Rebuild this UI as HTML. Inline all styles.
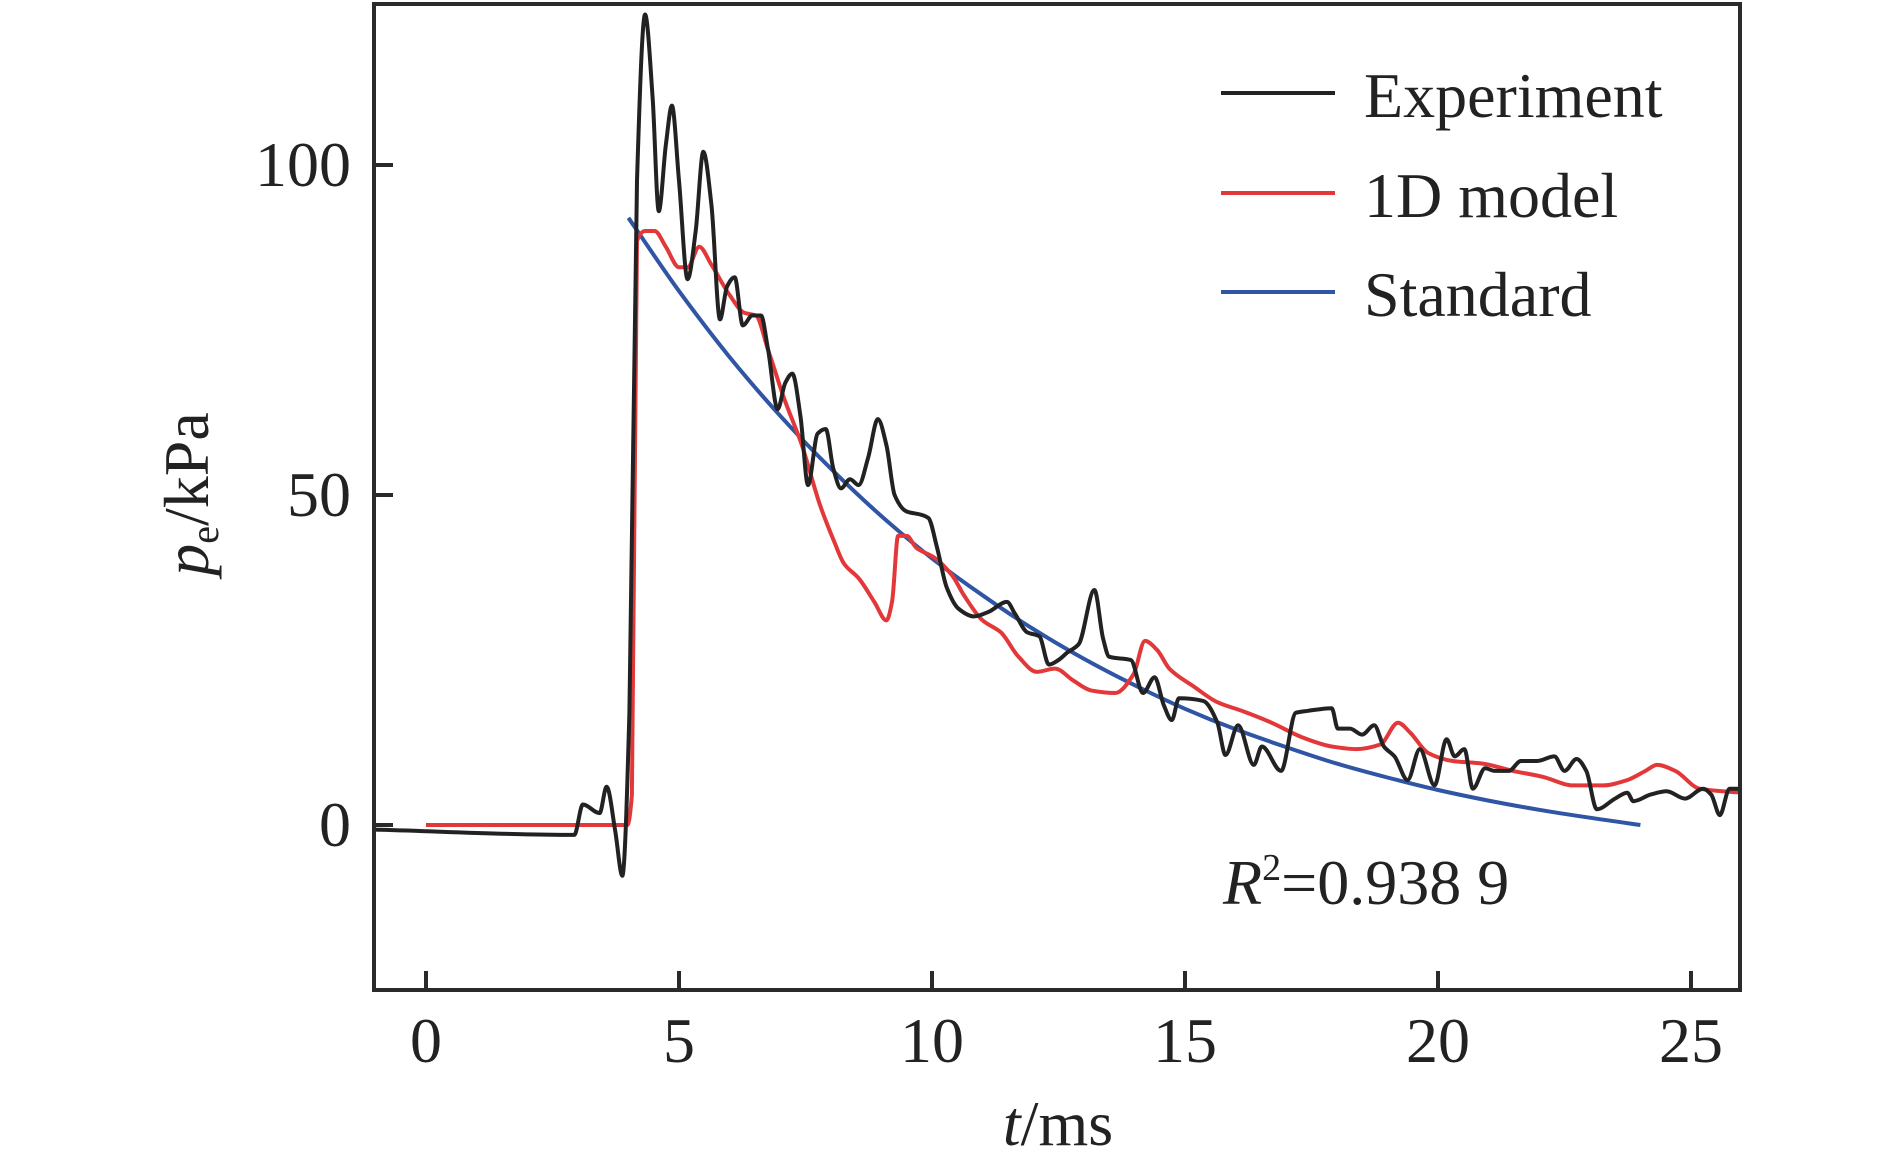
<!DOCTYPE html>
<html><head><meta charset="utf-8"><style>
html,body{margin:0;padding:0;background:#fff;}
svg{display:block;}
text{font-family:"Liberation Serif",serif;fill:#222;}
</style></head><body>
<svg id="chart" width="1890" height="1164" viewBox="0 0 1890 1164" xmlns="http://www.w3.org/2000/svg">
<g id="plot"></g>
<g id="axes"></g>
<g>
 <line x1="1221" y1="93" x2="1335" y2="93" stroke="#222" stroke-width="4"/>
 <text x="1364" y="117" font-size="64">Experiment</text>
 <line x1="1221" y1="193" x2="1335" y2="193" stroke="#e3383a" stroke-width="4"/>
 <text x="1364" y="217" font-size="64">1D model</text>
 <line x1="1221" y1="292" x2="1335" y2="292" stroke="#2f55a4" stroke-width="4"/>
 <text x="1364" y="316" font-size="64">Standard</text>
</g>
<text x="1223" y="904" font-size="64"><tspan font-style="italic">R</tspan><tspan font-size="38" dy="-24">2</tspan><tspan dy="24">=0.938 9</tspan></text>
<text x="1058" y="1145" font-size="64" text-anchor="middle"><tspan font-style="italic">t</tspan>/ms</text>
<text transform="translate(208,494) rotate(-90)" font-size="64" text-anchor="middle"><tspan font-style="italic">p</tspan><tspan font-size="40" dy="10">e</tspan><tspan dy="-10">/kPa</tspan></text>
</svg>
<script>
const expT=[-1.0,2.93,3.1,3.43,3.57,3.74,3.88,4.02,4.17,4.33,4.48,4.6,4.74,4.86,5.0,5.17,5.33,5.48,5.64,5.81,5.95,6.1,6.26,6.45,6.62,6.76,6.95,7.1,7.24,7.4,7.55,7.74,7.9,8.05,8.2,8.38,8.55,8.74,8.93,9.1,9.26,9.5,9.79,9.93,10.1,10.29,10.52,10.83,11.12,11.48,11.64,11.88,12.12,12.31,12.5,12.67,12.9,13.21,13.38,13.5,13.93,14.17,14.4,14.58,14.74,14.88,15.36,15.64,15.8,16.05,16.36,16.52,16.9,17.19,17.43,17.9,18.02,18.26,18.5,18.74,18.93,19.14,19.4,19.64,19.93,20.17,20.33,20.52,20.69,20.93,21.12,21.4,21.64,21.95,22.3,22.5,22.74,22.93,23.14,23.5,23.74,23.86,24.2,24.52,24.88,25.24,25.4,25.57,25.76,25.98];
const expP=[-0.7,-1.5,3.1,1.8,5.8,-0.9,-7.7,17,97.6,122.8,110,93,103,109,97.6,82.7,90,102,94,76.6,81.6,83,75.7,77.2,77.2,72,63,67,68.4,62,51.5,59.3,60,54,51,52.4,51.5,55.7,61.5,57.5,50,47.5,47,46.5,42,36,32.8,31.6,32.3,33.8,32,29.2,28.6,24.3,25,26.1,27.4,35.6,28.3,25.5,25,20,22.4,18.2,15.9,19.2,18.8,15.5,10.6,15.1,9.1,11.9,8.2,17,17.3,17.7,14.6,14.6,13.7,15.1,11.9,10.4,6.8,11.5,6,13,10.4,11.5,5.5,8.6,8.2,8.2,9.7,9.7,10.4,8.2,10,8.2,2.4,4,4.9,3.6,4.6,5.1,4,5.5,4.6,1.5,5.5,5.5];
const modT=[0,3.98,4.07,4.17,4.33,4.52,4.74,5.0,5.17,5.4,5.64,6.0,6.29,6.52,6.76,7.07,7.43,7.79,8.07,8.26,8.55,8.86,9.1,9.21,9.33,9.5,9.69,10.05,10.4,10.64,11.0,11.36,11.71,12.07,12.43,12.79,13.14,13.62,13.98,14.21,14.45,14.69,15.17,15.64,16.12,16.71,17.31,17.9,18.38,18.86,19.21,19.45,19.81,20.29,20.88,21.48,22.07,22.67,23.26,23.74,24.1,24.33,24.69,25.17,25.98];
const modP=[0,0,4.6,88.5,90,90,87.6,84.5,84.5,87.6,84.9,80.3,77.6,77.2,72,64.8,57.5,48.4,42.9,39.6,37.4,33.8,31,33.8,43.8,43.8,42,40.5,37.8,34.7,31,29.2,25.5,23.2,23.7,21.9,20.4,20,22.8,27.9,26.5,23.7,21,18.6,17.3,15.5,13.3,11.9,11.5,12.2,15.5,14,10.9,9.7,9.3,8.2,7.3,6,6,6.8,8.2,9.1,8.2,5.5,4.9];
const stdT=[4,5,6,7,8,9,10,11,12,13,14,15,16,17,18,19,20,21,22,23,24];
const stdP=[92,80.9,70.9,62.0,54.0,46.8,40.4,34.8,29.7,25.2,21.2,17.6,14.5,11.8,9.3,7.2,5.3,3.7,2.3,1.1,0];
const xTicks=[0,5,10,15,20,25];
const yTicks=[0,50,100];
const xTickLabels=["0","5","10","15","20","25"];
const yTickLabels=["0","50","100"];

const NS="http://www.w3.org/2000/svg";
const L=374,R=1740,T=4,B=990;
const xs=t=>426+t*50.6;
const ys=p=>825-p*6.6;
function monotone(tx,py){
  const X=tx.map(xs),Y=py.map(ys),n=X.length;
  const d=[],m=new Array(n);
  for(let i=0;i<n-1;i++)d.push((Y[i+1]-Y[i])/(X[i+1]-X[i]));
  m[0]=d[0];m[n-1]=d[n-2];
  for(let i=1;i<n-1;i++){
    if(d[i-1]*d[i]<=0)m[i]=0;
    else{const h0=X[i]-X[i-1],h1=X[i+1]-X[i];const w1=2*h1+h0,w2=h1+2*h0;m[i]=(w1+w2)/(w1/d[i-1]+w2/d[i]);}
  }
  let s="M"+X[0].toFixed(1)+","+Y[0].toFixed(1);
  for(let i=0;i<n-1;i++){
    const h=(X[i+1]-X[i])/3;
    s+="C"+(X[i]+h).toFixed(1)+","+(Y[i]+m[i]*h).toFixed(1)+" "+(X[i+1]-h).toFixed(1)+","+(Y[i+1]-m[i+1]*h).toFixed(1)+" "+X[i+1].toFixed(1)+","+Y[i+1].toFixed(1);
  }
  return s;
}
const plot=document.getElementById('plot');
function addPath(d,color,name){
  const p=document.createElementNS(NS,'path');
  p.setAttribute('d',d);p.setAttribute('fill','none');p.setAttribute('stroke',color);
  p.setAttribute('stroke-width','4');p.setAttribute('stroke-linejoin','round');
  
  
  plot.appendChild(p);
}
addPath(monotone(stdT,stdP),'#2f55a4','standard-series');
addPath(monotone(modT,modP),'#e3383a','1d-model-series');
addPath(monotone(expT,expP),'#222','experiment-series');

const axes=document.getElementById('axes');
const frame=document.createElementNS(NS,'rect');
frame.setAttribute('x',L);frame.setAttribute('y',T);frame.setAttribute('width',R-L);frame.setAttribute('height',B-T);
frame.setAttribute('fill','none');frame.setAttribute('stroke','#2a2a2a');frame.setAttribute('stroke-width','4');


axes.appendChild(frame);
xTicks.forEach((v,i)=>{
  const x=xs(v);
  const ln=document.createElementNS(NS,'line');
  ln.setAttribute('x1',x);ln.setAttribute('x2',x);ln.setAttribute('y1',B);ln.setAttribute('y2',B-19);
  ln.setAttribute('stroke','#2a2a2a');ln.setAttribute('stroke-width','4');
  
  
  axes.appendChild(ln);
  const tx=document.createElementNS(NS,'text');
  tx.setAttribute('x',x);tx.setAttribute('y',1062);tx.setAttribute('font-size','64');tx.setAttribute('text-anchor','middle');
  tx.textContent=xTickLabels[i];
  
  
  axes.appendChild(tx);
});
yTicks.forEach((v,i)=>{
  const y=ys(v);
  const ln=document.createElementNS(NS,'line');
  ln.setAttribute('x1',L);ln.setAttribute('x2',L+19);ln.setAttribute('y1',y);ln.setAttribute('y2',y);
  ln.setAttribute('stroke','#2a2a2a');ln.setAttribute('stroke-width','4');
  
  
  axes.appendChild(ln);
  const tx=document.createElementNS(NS,'text');
  tx.setAttribute('x',351);tx.setAttribute('y',y+21);tx.setAttribute('font-size','64');tx.setAttribute('text-anchor','end');
  tx.textContent=yTickLabels[i];
  
  
  axes.appendChild(tx);
});
</script>
</body></html>
